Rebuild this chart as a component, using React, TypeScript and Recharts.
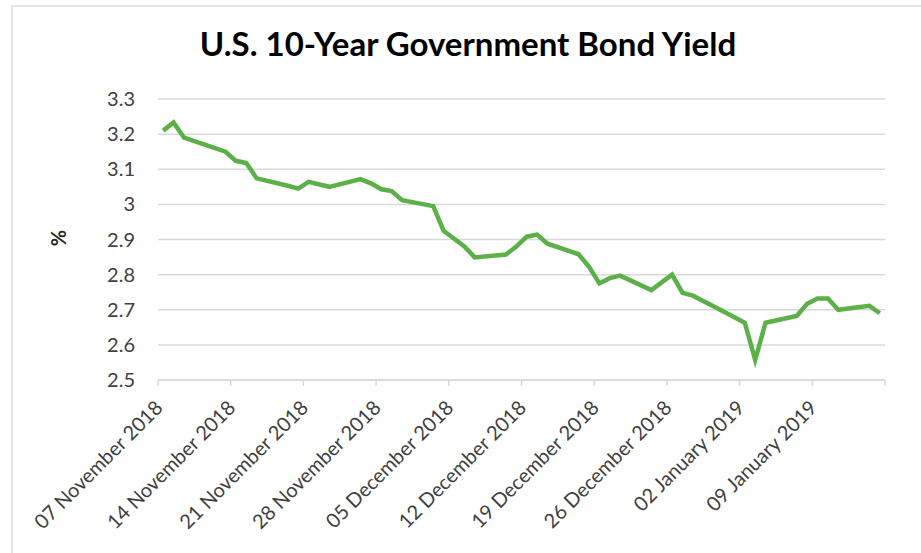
import React from 'react';
import { LineChart, Line, XAxis, YAxis, CartesianGrid } from 'recharts';

// trading days shown in the chart (market holidays are skipped)
const dates = [
  '2018-11-07', '2018-11-08', '2018-11-09', '2018-11-13', '2018-11-14', '2018-11-15', '2018-11-16',
  '2018-11-19', '2018-11-20', '2018-11-21', '2018-11-23', '2018-11-26', '2018-11-27', '2018-11-28',
  '2018-11-29', '2018-11-30', '2018-12-03', '2018-12-04', '2018-12-06', '2018-12-07', '2018-12-10',
  '2018-12-11', '2018-12-12', '2018-12-13', '2018-12-14', '2018-12-17', '2018-12-18', '2018-12-19',
  '2018-12-20', '2018-12-21', '2018-12-24', '2018-12-26', '2018-12-27', '2018-12-28', '2018-12-31',
  '2019-01-02', '2019-01-03', '2019-01-04', '2019-01-07', '2019-01-08', '2019-01-09', '2019-01-10',
  '2019-01-11', '2019-01-14', '2019-01-15',
];

const yields = [
  3.21, 3.233, 3.19, 3.15, 3.124, 3.118, 3.074,
  3.053, 3.045, 3.064, 3.05, 3.072, 3.06, 3.043,
  3.038, 3.012, 2.995, 2.925, 2.88, 2.849, 2.857,
  2.88, 2.908, 2.914, 2.888, 2.858, 2.822, 2.775,
  2.79, 2.797, 2.756, 2.8, 2.748, 2.74, 2.694,
  2.663, 2.557, 2.663, 2.682, 2.717, 2.732, 2.732,
  2.7, 2.711, 2.69,
];

const yTicks = [2.5, 2.6, 2.7, 2.8, 2.9, 3, 3.1, 3.2, 3.3];
const monthNames = [
  'January', 'February', 'March', 'April', 'May', 'June',
  'July', 'August', 'September', 'October', 'November', 'December',
];

const DAY = 86400000;
const parse = (s: string) => {
  const [y, m, d] = s.split('-').map(Number);
  return Date.UTC(y, m - 1, d);
};
const start = parse(dates[0]);
const chartData = dates.map((d, i) => ({ day: Math.round((parse(d) - start) / DAY), value: yields[i] }));

// weekly tick marks at the edge of each day slot (Excel date axis style)
const xTicks = Array.from({ length: 11 }, (_, i) => i * 7 - 0.5);

const fmtDate = (v: number) => {
  const dayIdx = Math.round(v + 0.5);
  if (dayIdx >= 70) return '';
  const dt = new Date(start + dayIdx * DAY);
  const dd = String(dt.getUTCDate()).padStart(2, '0');
  return `${dd} ${monthNames[dt.getUTCMonth()]} ${dt.getUTCFullYear()}`;
};

const FONT = 'Lato, "Open Sans", sans-serif';

const DateTick = (props: any) => {
  const { x, y, payload } = props;
  const label = fmtDate(payload.value);
  const ax = x + 6;
  const ay = y + 21;
  return (
    <text
      x={ax}
      y={ay}
      transform={`rotate(-45, ${ax}, ${ay})`}
      textAnchor="end"
      fontSize={20}
      fontFamily={FONT}
      fill="#404040"
    >
      {label}
    </text>
  );
};

export default function App() {
  return (
    <div style={{ position: 'fixed', left: 0, top: 0, width: 921, height: 553, background: '#fff', overflow: 'hidden' }}>
      <div
        style={{
          position: 'absolute', left: 11, top: 5, width: 930, height: 560,
          borderTop: '2px solid #e3e3e3', borderLeft: '2px solid #e3e3e3',
        }}
      />
      <div
        style={{
          position: 'absolute', left: 0, width: 936, top: 23, textAlign: 'center',
          fontFamily: FONT, fontWeight: 700, fontSize: 33, color: '#000',
        }}
      >
        U.S. 10-Year Government Bond Yield
      </div>
      <div
        style={{
          position: 'absolute', left: 46, top: 226, width: 24, height: 24,
          transform: 'rotate(-90deg)', fontFamily: FONT, fontWeight: 700, fontSize: 20,
          color: '#262626', textAlign: 'center', lineHeight: '24px',
        }}
      >
        %
      </div>
      <div style={{ position: 'absolute', left: 0, top: 0 }}>
        <LineChart width={921} height={553} data={chartData} margin={{ top: 99, right: 36, bottom: 13, left: 58 }}>
          <CartesianGrid horizontal vertical={false} stroke="#d9d9d9" strokeWidth={1.5} />
          <XAxis
            dataKey="day"
            type="number"
            domain={[-0.5, 69.5]}
            ticks={xTicks}
            interval={0}
            height={160}
            tick={<DateTick />}
            tickSize={6}
            tickLine={{ stroke: '#d9d9d9', strokeWidth: 1.5 }}
            axisLine={{ stroke: '#d9d9d9', strokeWidth: 1.5 }}
          />
          <YAxis
            domain={[2.5, 3.3]}
            ticks={yTicks}
            interval={0}
            width={100}
            axisLine={false}
            tickLine={false}
            tickSize={0}
            tickMargin={23}
            tick={{ fontSize: 20, fontFamily: FONT, fill: '#404040' }}
          />
          <Line
            type="linear"
            dataKey="value"
            stroke="#5cb048"
            strokeWidth={4.5}
            dot={false}
            isAnimationActive={false}
          />
        </LineChart>
      </div>
    </div>
  );
}
